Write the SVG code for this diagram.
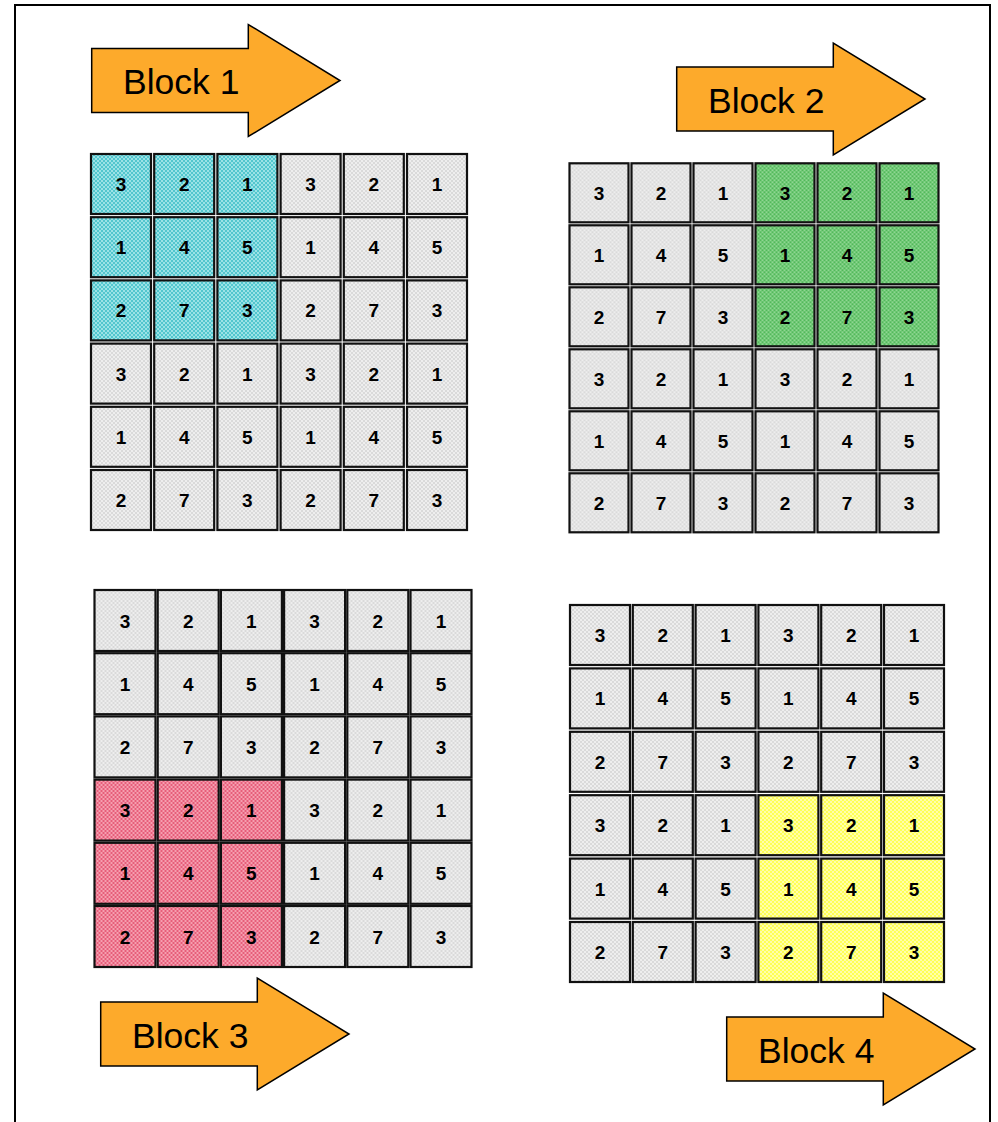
<svg xmlns="http://www.w3.org/2000/svg" width="998" height="1122" viewBox="0 0 998 1122">
<defs>
<pattern id="pg" patternUnits="userSpaceOnUse" width="4" height="4"><rect width="4" height="4" fill="#dadada"/><rect width="2" height="2" fill="#eeeeee"/><rect x="2" y="2" width="2" height="2" fill="#eeeeee"/></pattern>
<pattern id="pc" patternUnits="userSpaceOnUse" width="4" height="4"><rect width="4" height="4" fill="#52c6ce"/><rect width="2" height="2" fill="#9be2e6"/><rect x="2" y="2" width="2" height="2" fill="#9be2e6"/></pattern>
<pattern id="pgr" patternUnits="userSpaceOnUse" width="4" height="4"><rect width="4" height="4" fill="#52b85a"/><rect width="2" height="2" fill="#8fd792"/><rect x="2" y="2" width="2" height="2" fill="#8fd792"/></pattern>
<pattern id="pp" patternUnits="userSpaceOnUse" width="4" height="4"><rect width="4" height="4" fill="#e65d79"/><rect width="2" height="2" fill="#f59fb0"/><rect x="2" y="2" width="2" height="2" fill="#f59fb0"/></pattern>
<pattern id="py" patternUnits="userSpaceOnUse" width="4" height="4"><rect width="4" height="4" fill="#ffff55"/><rect width="2" height="2" fill="#ffffaa"/><rect x="2" y="2" width="2" height="2" fill="#ffffaa"/></pattern>
</defs>
<style>
.c{stroke:#111;stroke-width:2.2}
.g{fill:url(#pg)}
.cy{fill:url(#pc)}
.gr{fill:url(#pgr)}
.pk{fill:url(#pp)}
.yl{fill:url(#py)}
.n{font-family:"Liberation Sans",Arial,sans-serif;font-weight:bold;font-size:19px;fill:#000;text-anchor:middle}
.arrow{fill:#fdaa2b;stroke:#000;stroke-width:1.5;stroke-linejoin:miter}
.lbl{font-family:"Liberation Sans",Arial,sans-serif;font-size:35.5px;fill:#000}
</style>
<rect x="15" y="5" width="975" height="1140" fill="#fff" stroke="#000" stroke-width="2"/>

<g id="arrow1"><path class="arrow" d="M91.7,48.5 H248.3 V24.5 L340,80.5 L248.3,136.5 V112.5 H91.7 Z"/><text class="lbl" x="123" y="94">Block 1</text></g>
<g id="arrow2"><path class="arrow" d="M676.7,67 H833.3 V43 L925,99 L833.3,155 V131 H676.7 Z"/><text class="lbl" x="708" y="112.5">Block 2</text></g>
<g id="arrow3"><path class="arrow" d="M100.7,1002 H257.3 V978 L349,1034 L257.3,1090 V1066 H100.7 Z"/><text class="lbl" x="132" y="1047.5">Block 3</text></g>
<g id="arrow4"><path class="arrow" d="M726.7,1017 H883.3 V993 L975,1049 L883.3,1105 V1081 H726.7 Z"/><text class="lbl" x="758" y="1062.5">Block 4</text></g>

<g id="grid1" transform="translate(91,154)">
<rect class="c cy" x="0" y="0" width="60" height="60"/><rect class="c cy" x="63.2" y="0" width="60" height="60"/><rect class="c cy" x="126.4" y="0" width="60" height="60"/><rect class="c g" x="189.6" y="0" width="60" height="60"/><rect class="c g" x="252.8" y="0" width="60" height="60"/><rect class="c g" x="316" y="0" width="60" height="60"/>
<rect class="c cy" x="0" y="63.2" width="60" height="60"/><rect class="c cy" x="63.2" y="63.2" width="60" height="60"/><rect class="c cy" x="126.4" y="63.2" width="60" height="60"/><rect class="c g" x="189.6" y="63.2" width="60" height="60"/><rect class="c g" x="252.8" y="63.2" width="60" height="60"/><rect class="c g" x="316" y="63.2" width="60" height="60"/>
<rect class="c cy" x="0" y="126.4" width="60" height="60"/><rect class="c cy" x="63.2" y="126.4" width="60" height="60"/><rect class="c cy" x="126.4" y="126.4" width="60" height="60"/><rect class="c g" x="189.6" y="126.4" width="60" height="60"/><rect class="c g" x="252.8" y="126.4" width="60" height="60"/><rect class="c g" x="316" y="126.4" width="60" height="60"/>
<rect class="c g" x="0" y="189.6" width="60" height="60"/><rect class="c g" x="63.2" y="189.6" width="60" height="60"/><rect class="c g" x="126.4" y="189.6" width="60" height="60"/><rect class="c g" x="189.6" y="189.6" width="60" height="60"/><rect class="c g" x="252.8" y="189.6" width="60" height="60"/><rect class="c g" x="316" y="189.6" width="60" height="60"/>
<rect class="c g" x="0" y="252.8" width="60" height="60"/><rect class="c g" x="63.2" y="252.8" width="60" height="60"/><rect class="c g" x="126.4" y="252.8" width="60" height="60"/><rect class="c g" x="189.6" y="252.8" width="60" height="60"/><rect class="c g" x="252.8" y="252.8" width="60" height="60"/><rect class="c g" x="316" y="252.8" width="60" height="60"/>
<rect class="c g" x="0" y="316" width="60" height="60"/><rect class="c g" x="63.2" y="316" width="60" height="60"/><rect class="c g" x="126.4" y="316" width="60" height="60"/><rect class="c g" x="189.6" y="316" width="60" height="60"/><rect class="c g" x="252.8" y="316" width="60" height="60"/><rect class="c g" x="316" y="316" width="60" height="60"/>
<text class="n" x="30" y="37">3</text><text class="n" x="93.2" y="37">2</text><text class="n" x="156.4" y="37">1</text><text class="n" x="219.6" y="37">3</text><text class="n" x="282.8" y="37">2</text><text class="n" x="346" y="37">1</text>
<text class="n" x="30" y="100.2">1</text><text class="n" x="93.2" y="100.2">4</text><text class="n" x="156.4" y="100.2">5</text><text class="n" x="219.6" y="100.2">1</text><text class="n" x="282.8" y="100.2">4</text><text class="n" x="346" y="100.2">5</text>
<text class="n" x="30" y="163.4">2</text><text class="n" x="93.2" y="163.4">7</text><text class="n" x="156.4" y="163.4">3</text><text class="n" x="219.6" y="163.4">2</text><text class="n" x="282.8" y="163.4">7</text><text class="n" x="346" y="163.4">3</text>
<text class="n" x="30" y="226.6">3</text><text class="n" x="93.2" y="226.6">2</text><text class="n" x="156.4" y="226.6">1</text><text class="n" x="219.6" y="226.6">3</text><text class="n" x="282.8" y="226.6">2</text><text class="n" x="346" y="226.6">1</text>
<text class="n" x="30" y="289.8">1</text><text class="n" x="93.2" y="289.8">4</text><text class="n" x="156.4" y="289.8">5</text><text class="n" x="219.6" y="289.8">1</text><text class="n" x="282.8" y="289.8">4</text><text class="n" x="346" y="289.8">5</text>
<text class="n" x="30" y="353">2</text><text class="n" x="93.2" y="353">7</text><text class="n" x="156.4" y="353">3</text><text class="n" x="219.6" y="353">2</text><text class="n" x="282.8" y="353">7</text><text class="n" x="346" y="353">3</text>
</g>

<g id="grid2" transform="translate(569.5,163.3)">
<rect class="c g" x="0" y="0" width="59" height="59"/><rect class="c g" x="62" y="0" width="59" height="59"/><rect class="c g" x="124" y="0" width="59" height="59"/><rect class="c gr" x="186" y="0" width="59" height="59"/><rect class="c gr" x="248" y="0" width="59" height="59"/><rect class="c gr" x="310" y="0" width="59" height="59"/>
<rect class="c g" x="0" y="62" width="59" height="59"/><rect class="c g" x="62" y="62" width="59" height="59"/><rect class="c g" x="124" y="62" width="59" height="59"/><rect class="c gr" x="186" y="62" width="59" height="59"/><rect class="c gr" x="248" y="62" width="59" height="59"/><rect class="c gr" x="310" y="62" width="59" height="59"/>
<rect class="c g" x="0" y="124" width="59" height="59"/><rect class="c g" x="62" y="124" width="59" height="59"/><rect class="c g" x="124" y="124" width="59" height="59"/><rect class="c gr" x="186" y="124" width="59" height="59"/><rect class="c gr" x="248" y="124" width="59" height="59"/><rect class="c gr" x="310" y="124" width="59" height="59"/>
<rect class="c g" x="0" y="186" width="59" height="59"/><rect class="c g" x="62" y="186" width="59" height="59"/><rect class="c g" x="124" y="186" width="59" height="59"/><rect class="c g" x="186" y="186" width="59" height="59"/><rect class="c g" x="248" y="186" width="59" height="59"/><rect class="c g" x="310" y="186" width="59" height="59"/>
<rect class="c g" x="0" y="248" width="59" height="59"/><rect class="c g" x="62" y="248" width="59" height="59"/><rect class="c g" x="124" y="248" width="59" height="59"/><rect class="c g" x="186" y="248" width="59" height="59"/><rect class="c g" x="248" y="248" width="59" height="59"/><rect class="c g" x="310" y="248" width="59" height="59"/>
<rect class="c g" x="0" y="310" width="59" height="59"/><rect class="c g" x="62" y="310" width="59" height="59"/><rect class="c g" x="124" y="310" width="59" height="59"/><rect class="c g" x="186" y="310" width="59" height="59"/><rect class="c g" x="248" y="310" width="59" height="59"/><rect class="c g" x="310" y="310" width="59" height="59"/>
<text class="n" x="29.5" y="36.5">3</text><text class="n" x="91.5" y="36.5">2</text><text class="n" x="153.5" y="36.5">1</text><text class="n" x="215.5" y="36.5">3</text><text class="n" x="277.5" y="36.5">2</text><text class="n" x="339.5" y="36.5">1</text>
<text class="n" x="29.5" y="98.5">1</text><text class="n" x="91.5" y="98.5">4</text><text class="n" x="153.5" y="98.5">5</text><text class="n" x="215.5" y="98.5">1</text><text class="n" x="277.5" y="98.5">4</text><text class="n" x="339.5" y="98.5">5</text>
<text class="n" x="29.5" y="160.5">2</text><text class="n" x="91.5" y="160.5">7</text><text class="n" x="153.5" y="160.5">3</text><text class="n" x="215.5" y="160.5">2</text><text class="n" x="277.5" y="160.5">7</text><text class="n" x="339.5" y="160.5">3</text>
<text class="n" x="29.5" y="222.5">3</text><text class="n" x="91.5" y="222.5">2</text><text class="n" x="153.5" y="222.5">1</text><text class="n" x="215.5" y="222.5">3</text><text class="n" x="277.5" y="222.5">2</text><text class="n" x="339.5" y="222.5">1</text>
<text class="n" x="29.5" y="284.5">1</text><text class="n" x="91.5" y="284.5">4</text><text class="n" x="153.5" y="284.5">5</text><text class="n" x="215.5" y="284.5">1</text><text class="n" x="277.5" y="284.5">4</text><text class="n" x="339.5" y="284.5">5</text>
<text class="n" x="29.5" y="346.5">2</text><text class="n" x="91.5" y="346.5">7</text><text class="n" x="153.5" y="346.5">3</text><text class="n" x="215.5" y="346.5">2</text><text class="n" x="277.5" y="346.5">7</text><text class="n" x="339.5" y="346.5">3</text>
</g>

<g id="grid3" transform="translate(94.5,590)">
<rect class="c g" x="0" y="0" width="61" height="61"/><rect class="c g" x="63.2" y="0" width="61" height="61"/><rect class="c g" x="126.4" y="0" width="61" height="61"/><rect class="c g" x="189.6" y="0" width="61" height="61"/><rect class="c g" x="252.8" y="0" width="61" height="61"/><rect class="c g" x="316" y="0" width="61" height="61"/>
<rect class="c g" x="0" y="63.2" width="61" height="61"/><rect class="c g" x="63.2" y="63.2" width="61" height="61"/><rect class="c g" x="126.4" y="63.2" width="61" height="61"/><rect class="c g" x="189.6" y="63.2" width="61" height="61"/><rect class="c g" x="252.8" y="63.2" width="61" height="61"/><rect class="c g" x="316" y="63.2" width="61" height="61"/>
<rect class="c g" x="0" y="126.4" width="61" height="61"/><rect class="c g" x="63.2" y="126.4" width="61" height="61"/><rect class="c g" x="126.4" y="126.4" width="61" height="61"/><rect class="c g" x="189.6" y="126.4" width="61" height="61"/><rect class="c g" x="252.8" y="126.4" width="61" height="61"/><rect class="c g" x="316" y="126.4" width="61" height="61"/>
<rect class="c pk" x="0" y="189.6" width="61" height="61"/><rect class="c pk" x="63.2" y="189.6" width="61" height="61"/><rect class="c pk" x="126.4" y="189.6" width="61" height="61"/><rect class="c g" x="189.6" y="189.6" width="61" height="61"/><rect class="c g" x="252.8" y="189.6" width="61" height="61"/><rect class="c g" x="316" y="189.6" width="61" height="61"/>
<rect class="c pk" x="0" y="252.8" width="61" height="61"/><rect class="c pk" x="63.2" y="252.8" width="61" height="61"/><rect class="c pk" x="126.4" y="252.8" width="61" height="61"/><rect class="c g" x="189.6" y="252.8" width="61" height="61"/><rect class="c g" x="252.8" y="252.8" width="61" height="61"/><rect class="c g" x="316" y="252.8" width="61" height="61"/>
<rect class="c pk" x="0" y="316" width="61" height="61"/><rect class="c pk" x="63.2" y="316" width="61" height="61"/><rect class="c pk" x="126.4" y="316" width="61" height="61"/><rect class="c g" x="189.6" y="316" width="61" height="61"/><rect class="c g" x="252.8" y="316" width="61" height="61"/><rect class="c g" x="316" y="316" width="61" height="61"/>
<text class="n" x="30.5" y="37.5">3</text><text class="n" x="93.7" y="37.5">2</text><text class="n" x="156.9" y="37.5">1</text><text class="n" x="220.1" y="37.5">3</text><text class="n" x="283.3" y="37.5">2</text><text class="n" x="346.5" y="37.5">1</text>
<text class="n" x="30.5" y="100.7">1</text><text class="n" x="93.7" y="100.7">4</text><text class="n" x="156.9" y="100.7">5</text><text class="n" x="220.1" y="100.7">1</text><text class="n" x="283.3" y="100.7">4</text><text class="n" x="346.5" y="100.7">5</text>
<text class="n" x="30.5" y="163.9">2</text><text class="n" x="93.7" y="163.9">7</text><text class="n" x="156.9" y="163.9">3</text><text class="n" x="220.1" y="163.9">2</text><text class="n" x="283.3" y="163.9">7</text><text class="n" x="346.5" y="163.9">3</text>
<text class="n" x="30.5" y="227.1">3</text><text class="n" x="93.7" y="227.1">2</text><text class="n" x="156.9" y="227.1">1</text><text class="n" x="220.1" y="227.1">3</text><text class="n" x="283.3" y="227.1">2</text><text class="n" x="346.5" y="227.1">1</text>
<text class="n" x="30.5" y="290.3">1</text><text class="n" x="93.7" y="290.3">4</text><text class="n" x="156.9" y="290.3">5</text><text class="n" x="220.1" y="290.3">1</text><text class="n" x="283.3" y="290.3">4</text><text class="n" x="346.5" y="290.3">5</text>
<text class="n" x="30.5" y="353.5">2</text><text class="n" x="93.7" y="353.5">7</text><text class="n" x="156.9" y="353.5">3</text><text class="n" x="220.1" y="353.5">2</text><text class="n" x="283.3" y="353.5">7</text><text class="n" x="346.5" y="353.5">3</text>
</g>

<g id="grid4" transform="translate(570,605)">
<rect class="c g" x="0" y="0" width="60" height="60"/><rect class="c g" x="62.8" y="0" width="60" height="60"/><rect class="c g" x="125.6" y="0" width="60" height="60"/><rect class="c g" x="188.4" y="0" width="60" height="60"/><rect class="c g" x="251.2" y="0" width="60" height="60"/><rect class="c g" x="314" y="0" width="60" height="60"/>
<rect class="c g" x="0" y="63.4" width="60" height="60"/><rect class="c g" x="62.8" y="63.4" width="60" height="60"/><rect class="c g" x="125.6" y="63.4" width="60" height="60"/><rect class="c g" x="188.4" y="63.4" width="60" height="60"/><rect class="c g" x="251.2" y="63.4" width="60" height="60"/><rect class="c g" x="314" y="63.4" width="60" height="60"/>
<rect class="c g" x="0" y="126.8" width="60" height="60"/><rect class="c g" x="62.8" y="126.8" width="60" height="60"/><rect class="c g" x="125.6" y="126.8" width="60" height="60"/><rect class="c g" x="188.4" y="126.8" width="60" height="60"/><rect class="c g" x="251.2" y="126.8" width="60" height="60"/><rect class="c g" x="314" y="126.8" width="60" height="60"/>
<rect class="c g" x="0" y="190.2" width="60" height="60"/><rect class="c g" x="62.8" y="190.2" width="60" height="60"/><rect class="c g" x="125.6" y="190.2" width="60" height="60"/><rect class="c yl" x="188.4" y="190.2" width="60" height="60"/><rect class="c yl" x="251.2" y="190.2" width="60" height="60"/><rect class="c yl" x="314" y="190.2" width="60" height="60"/>
<rect class="c g" x="0" y="253.6" width="60" height="60"/><rect class="c g" x="62.8" y="253.6" width="60" height="60"/><rect class="c g" x="125.6" y="253.6" width="60" height="60"/><rect class="c yl" x="188.4" y="253.6" width="60" height="60"/><rect class="c yl" x="251.2" y="253.6" width="60" height="60"/><rect class="c yl" x="314" y="253.6" width="60" height="60"/>
<rect class="c g" x="0" y="317" width="60" height="60"/><rect class="c g" x="62.8" y="317" width="60" height="60"/><rect class="c g" x="125.6" y="317" width="60" height="60"/><rect class="c yl" x="188.4" y="317" width="60" height="60"/><rect class="c yl" x="251.2" y="317" width="60" height="60"/><rect class="c yl" x="314" y="317" width="60" height="60"/>
<text class="n" x="30" y="37">3</text><text class="n" x="92.8" y="37">2</text><text class="n" x="155.6" y="37">1</text><text class="n" x="218.4" y="37">3</text><text class="n" x="281.2" y="37">2</text><text class="n" x="344" y="37">1</text>
<text class="n" x="30" y="100.4">1</text><text class="n" x="92.8" y="100.4">4</text><text class="n" x="155.6" y="100.4">5</text><text class="n" x="218.4" y="100.4">1</text><text class="n" x="281.2" y="100.4">4</text><text class="n" x="344" y="100.4">5</text>
<text class="n" x="30" y="163.8">2</text><text class="n" x="92.8" y="163.8">7</text><text class="n" x="155.6" y="163.8">3</text><text class="n" x="218.4" y="163.8">2</text><text class="n" x="281.2" y="163.8">7</text><text class="n" x="344" y="163.8">3</text>
<text class="n" x="30" y="227.2">3</text><text class="n" x="92.8" y="227.2">2</text><text class="n" x="155.6" y="227.2">1</text><text class="n" x="218.4" y="227.2">3</text><text class="n" x="281.2" y="227.2">2</text><text class="n" x="344" y="227.2">1</text>
<text class="n" x="30" y="290.6">1</text><text class="n" x="92.8" y="290.6">4</text><text class="n" x="155.6" y="290.6">5</text><text class="n" x="218.4" y="290.6">1</text><text class="n" x="281.2" y="290.6">4</text><text class="n" x="344" y="290.6">5</text>
<text class="n" x="30" y="354">2</text><text class="n" x="92.8" y="354">7</text><text class="n" x="155.6" y="354">3</text><text class="n" x="218.4" y="354">2</text><text class="n" x="281.2" y="354">7</text><text class="n" x="344" y="354">3</text>
</g>
</svg>
